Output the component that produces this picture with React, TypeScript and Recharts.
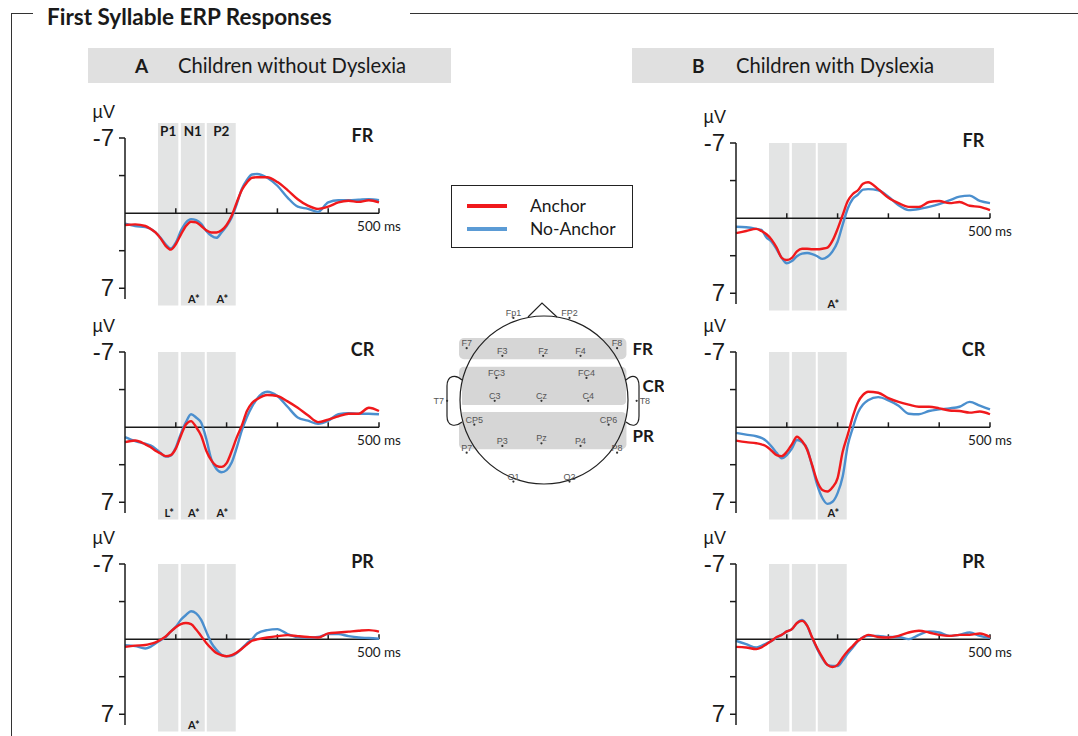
import React from 'react';
import {
  LineChart,
  Line,
  XAxis,
  YAxis,
  ReferenceArea,
  ReferenceLine,
  ReferenceDot,
  ScatterChart,
  Scatter,
} from 'recharts';

// time axis (ms after syllable onset), denser where the components sit
const TIME_MS = [0, 20, 40, 50, 60, 70, 80, 90, 100, 110, 120, 130, 140, 150, 160, 170, 180, 190, 200, 210, 220, 230, 240, 250, 260, 280, 300, 320, 340, 360, 380, 400, 420, 440, 460, 480, 500];
const X_TICKS = [100, 200, 300, 400, 500];
const Y_TICKS = [-7, -3.5, 3.5, 7];

const COMPONENTS = ['P1', 'N1', 'P2'];
const WINDOW_FROM = [65, 110, 161];
const WINDOW_TO = [105, 157, 218];

// µV, negative plotted up
const A_FR_ANCHOR = [1.1, 1.05, 1.2, 1.45, 1.8, 2.35, 3.05, 3.4, 2.9, 2.0, 1.2, 0.8, 0.87, 1.2, 1.6, 1.8, 1.8, 1.6, 1.1, 0.25, -1.0, -2.15, -2.85, -3.3, -3.35, -3.35, -2.9, -2.15, -1.3, -0.7, -0.4, -0.6, -1.0, -1.15, -1.05, -1.2, -1.0];
const A_FR_NO_ANCHOR = [0.97, 1.2, 1.3, 1.45, 1.8, 2.3, 2.9, 3.3, 2.75, 1.65, 0.87, 0.56, 0.65, 1.0, 1.65, 2.1, 2.3, 1.8, 1.2, 0.4, -0.85, -2.25, -3.1, -3.6, -3.65, -3.3, -2.55, -1.45, -0.6, -0.4, -0.12, -1.0, -1.2, -1.2, -1.25, -1.3, -1.2];

const A_CR_ANCHOR = [1.4, 1.25, 1.6, 1.85, 2.2, 2.45, 2.7, 2.6, 2.0, 0.8, -0.25, -0.56, 0.0, 0.8, 2.2, 3.1, 3.6, 3.7, 3.35, 2.25, 0.95, -0.15, -1.5, -2.25, -2.6, -3.0, -2.9, -2.4, -1.8, -1.1, -0.47, -0.7, -1.0, -1.25, -1.25, -1.8, -1.5];
const A_CR_NO_ANCHOR = [0.93, 1.3, 1.55, 1.7, 2.0, 2.4, 2.75, 2.65, 1.9, 0.6, -0.47, -1.2, -0.9, -0.4, 1.1, 3.0, 3.9, 4.2, 4.0, 3.3, 1.9, 0.3, -0.95, -1.9, -2.65, -3.3, -2.9, -1.9, -0.9, -0.6, -0.3, -0.6, -1.2, -1.3, -1.25, -1.25, -1.2];

const A_PR_ANCHOR = [0.72, 0.6, 0.55, 0.45, 0.3, 0.05, -0.25, -0.7, -1.1, -1.4, -1.5, -1.4, -0.9, -0.28, 0.35, 0.87, 1.3, 1.5, 1.6, 1.5, 1.25, 0.9, 0.5, 0.15, 0.03, -0.15, -0.28, -0.37, -0.28, -0.2, -0.15, -0.53, -0.62, -0.7, -0.78, -0.84, -0.7];
const A_PR_NO_ANCHOR = [0.56, 0.65, 0.87, 0.72, 0.4, 0.1, -0.2, -0.7, -1.15, -1.8, -2.25, -2.6, -2.4, -1.8, -0.7, 0.35, 1.0, 1.45, 1.6, 1.55, 1.3, 0.87, 0.4, 0.0, -0.53, -0.84, -0.93, -0.47, -0.2, -0.15, -0.2, -0.47, -0.47, -0.28, -0.15, -0.1, -0.03];

const B_FR_ANCHOR = [1.4, 1.2, 1.0, 1.2, 1.5, 2.0, 2.75, 3.7, 3.9, 3.7, 3.1, 2.85, 2.85, 2.9, 2.9, 2.85, 2.75, 2.1, 1.0, -0.3, -1.6, -2.25, -2.6, -3.2, -3.35, -2.7, -1.9, -1.4, -1.05, -1.05, -1.5, -1.6, -1.4, -1.5, -1.15, -1.05, -0.75];
const B_FR_NO_ANCHOR = [0.8, 0.85, 1.0, 1.1, 1.8, 2.2, 2.9, 3.7, 4.2, 4.0, 3.55, 3.3, 3.25, 3.35, 3.55, 3.8, 3.6, 3.1, 2.2, 0.6, -0.9, -1.8, -2.2, -2.65, -2.7, -2.6, -2.0, -1.2, -0.75, -0.85, -1.05, -1.3, -1.65, -2.0, -2.1, -1.6, -1.4];

const B_CR_ANCHOR = [1.25, 1.4, 1.5, 1.6, 1.8, 2.2, 2.6, 2.7, 2.3, 1.6, 0.9, 1.3, 2.1, 3.55, 5.05, 5.85, 6.0, 5.6, 4.75, 2.3, 0.7, -1.0, -2.3, -3.0, -3.3, -3.2, -2.7, -2.35, -2.1, -1.9, -1.9, -1.75, -1.55, -1.5, -1.35, -1.45, -1.2];
const B_CR_NO_ANCHOR = [0.53, 0.7, 0.85, 1.0, 1.3, 1.8, 2.4, 2.9, 2.6, 2.0, 1.2, 1.4, 2.0, 3.65, 5.4, 6.6, 7.15, 6.95, 6.15, 4.6, 1.7, 0.06, -1.35, -2.1, -2.5, -2.8, -2.5, -2.0, -1.25, -1.2, -1.5, -1.65, -1.75, -1.9, -2.35, -2.0, -1.65];

const B_PR_ANCHOR = [0.72, 0.78, 0.93, 0.78, 0.47, 0.16, -0.2, -0.4, -0.72, -0.93, -1.5, -1.7, -1.25, -0.15, 0.85, 1.7, 2.4, 2.6, 2.4, 1.7, 1.1, 0.62, 0.15, -0.15, -0.4, -0.2, -0.15, -0.3, -0.62, -0.78, -0.62, -0.4, -0.3, -0.4, -0.4, -0.53, -0.2];
const B_PR_NO_ANCHOR = [0.16, 0.47, 0.78, 0.62, 0.4, 0.16, -0.15, -0.4, -0.72, -0.93, -1.5, -1.78, -1.25, -0.1, 0.93, 1.78, 2.4, 2.5, 2.5, 2.0, 1.35, 0.78, 0.2, -0.2, -0.3, -0.3, -0.2, -0.2, 0, -0.4, -0.72, -0.62, -0.3, -0.4, -0.62, -0.3, -0.1];

// electrode montage, head radius = 1
const ELECTRODES = [
  { name: 'Fp1', x: -0.36, y: 0.965 },
  { name: 'FP2', x: 0.3, y: 0.965 },
  { name: 'F7', x: -0.91, y: 0.61 },
  { name: 'F3', x: -0.49, y: 0.52 },
  { name: 'Fz', x: -0.01, y: 0.52 },
  { name: 'F4', x: 0.43, y: 0.52 },
  { name: 'F8', x: 0.86, y: 0.61 },
  { name: 'FC3', x: -0.56, y: 0.26 },
  { name: 'FC4', x: 0.5, y: 0.26 },
  { name: 'T7', x: -1.14, y: -0.01 },
  { name: 'C3', x: -0.58, y: -0.01 },
  { name: 'Cz', x: -0.03, y: -0.01 },
  { name: 'C4', x: 0.52, y: -0.01 },
  { name: 'T8', x: 1.09, y: -0.01 },
  { name: 'CP5', x: -0.82, y: -0.29 },
  { name: 'CP6', x: 0.76, y: -0.29 },
  { name: 'P3', x: -0.49, y: -0.54 },
  { name: 'Pz', x: -0.03, y: -0.51 },
  { name: 'P4', x: 0.43, y: -0.54 },
  { name: 'P7', x: -0.91, y: -0.62 },
  { name: 'P8', x: 0.86, y: -0.62 },
  { name: 'O1', x: -0.36, y: -0.96 },
  { name: 'O2', x: 0.3, y: -0.96 },
];
const REGIONS = ['FR', 'CR', 'PR'];
const REGION_TOP = [0.73, 0.39, -0.14];
const REGION_BOTTOM = [0.48, -0.06, -0.58];

const RED = '#f0191c';
const BLUE = '#4b8fce';
const BAND = '#e3e4e4';
const INK = '#1a1a1a';

const PLOT_W = 254;
const PLOT_H = 161;

type PanelProps = {
  left: number;
  top: number;
  region: string;
  anchor: number[];
  noAnchor: number[];
  effects: string[];
  names?: boolean;
};

function YTick(props: any) {
  const { x, y, payload } = props;
  const v = payload.value;
  if (Math.abs(v) !== 7) return null;
  return (
    <g fontFamily="Liberation Sans, Arial, sans-serif" fill={INK}>
      {v === -7 && (
        <text x={x + 1} y={y - 20} textAnchor="end" fontSize={18}>
          µV
        </text>
      )}
      <text x={x} y={y} dy={8} textAnchor="end" fontSize={24}>
        {v === -7 ? '-7' : '7'}
      </text>
    </g>
  );
}

function BandLabel(props: any) {
  const { viewBox, topText, bottomText } = props;
  if (!viewBox) return null;
  const { x, y, width, height } = viewBox;
  const cx = x + width / 2;
  return (
    <g fontFamily="Lato, sans-serif" fontWeight={700} fill={INK}>
      {topText && (
        <text x={cx} y={y + 13} textAnchor="middle" fontSize={13.5}>
          {topText}
        </text>
      )}
      {bottomText && (
        <text x={cx + 1} y={y + height - 2} textAnchor="middle" fontSize={11}>
          {bottomText}
        </text>
      )}
    </g>
  );
}

function MsLabel(props: any) {
  const { viewBox } = props;
  if (!viewBox) return null;
  return (
    <text x={viewBox.x + viewBox.width} y={viewBox.y + 18} textAnchor="middle" fontSize={13.5} fontFamily="Lato, sans-serif" fill={INK}>
      500 ms
    </text>
  );
}

function RegionLabel(props: any) {
  const { viewBox, text } = props;
  if (!viewBox) return null;
  return (
    <text x={viewBox.x + viewBox.width * 0.935} y={viewBox.y + 4} textAnchor="middle" fontSize={18} fontWeight={700} fontFamily="Lato, sans-serif" fill={INK}>
      {text}
    </text>
  );
}

function ErpPanel({ left, top, region, anchor, noAnchor, effects, names }: PanelProps) {
  const data = TIME_MS.map((t, i) => ({ t, anchor: anchor[i], noAnchor: noAnchor[i] }));
  return (
    <div style={{ position: 'absolute', left: left - 60, top: top - 40 }}>
      <LineChart width={60 + PLOT_W + 46} height={40 + PLOT_H + 34} data={data} margin={{ top: 40, right: 46, bottom: 34, left: 0 }}>
        <XAxis dataKey="t" type="number" domain={[0, 500]} hide />
        <YAxis
          type="number"
          domain={[-7, 8]}
          reversed
          allowDataOverflow
          ticks={Y_TICKS}
          interval={0}
          width={60}
          tickSize={6}
          tickMargin={5}
          axisLine={{ stroke: INK, strokeWidth: 1.5 }}
          tickLine={{ stroke: INK, strokeWidth: 1.5 }}
          tick={<YTick />}
        />
        {COMPONENTS.map((c, i) => (
          <ReferenceArea
            key={c}
            x1={WINDOW_FROM[i]}
            x2={WINDOW_TO[i]}
            y1={names ? -8.4 : -7}
            y2={8.6}
            fill={BAND}
            fillOpacity={1}
            stroke="none"
            ifOverflow="visible"
            label={<BandLabel topText={names ? c : ''} bottomText={effects[i]} />}
          />
        ))}
        <ReferenceLine y={-7} stroke="none" label={<RegionLabel text={region} />} />
        <ReferenceLine y={0} stroke={INK} strokeWidth={1.5} label={<MsLabel />} />
        {X_TICKS.map((t) => (
          <ReferenceLine key={t} segment={[{ x: t, y: 0 }, { x: t, y: -0.45 }]} stroke={INK} strokeWidth={1.5} />
        ))}
        <Line dataKey="noAnchor" type="monotone" stroke={BLUE} strokeWidth={2.4} dot={false} isAnimationActive={false} />
        <Line dataKey="anchor" type="monotone" stroke={RED} strokeWidth={2.4} dot={false} isAnimationActive={false} />
      </LineChart>
    </div>
  );
}

function HeadOutline(props: any) {
  const { cx, cy, r } = props;
  if (cx == null) return null;
  const s = r / 84;
  const nose = `M ${cx - 16 * s} ${cy - 83 * s} L ${cx - 2 * s} ${cy - 97 * s} L ${cx + 13 * s} ${cy - 83 * s}`;
  const ear = (dir: number, reach: number) => {
    const X = (v: number) => cx + dir * v * s;
    const Y = (v: number) => cy + v * s;
    return `M ${X(82)} ${Y(-20)} C ${X(88)} ${Y(-26)} ${X(reach)} ${Y(-25)} ${X(reach)} ${Y(-14)} L ${X(reach)} ${Y(16)} C ${X(reach)} ${Y(27)} ${X(88)} ${Y(27)} ${X(82)} ${Y(22)}`;
  };
  return (
    <g fill="#fff" stroke="#222" strokeWidth={1.2}>
      <path d={nose} fill="#fff" />
      <path d={ear(-1, 97)} />
      <path d={ear(1, 95)} />
      <circle cx={cx} cy={cy} r={r} fill="none" />
    </g>
  );
}

function Electrode(props: any) {
  const { cx, cy, payload } = props;
  if (cx == null) return null;
  const side = payload.name === 'T7' ? -1 : payload.name === 'T8' ? 1 : 0;
  return (
    <g>
      <circle cx={cx} cy={cy} r={1.1} fill="#333" />
      {side === 0 ? (
        <text x={cx} y={cy - 2} textAnchor="middle" fontSize={9} fill="#555" fontFamily="Liberation Sans, Arial, sans-serif">
          {payload.name}
        </text>
      ) : (
        <text x={cx + side * 3} y={cy + 3} textAnchor={side < 0 ? 'end' : 'start'} fontSize={9} fill="#555" fontFamily="Liberation Sans, Arial, sans-serif">
          {payload.name}
        </text>
      )}
    </g>
  );
}

function RegionBand(props: any) {
  const { x, y, width, height } = props;
  return <rect x={x} y={y} width={width} height={height} rx={5} ry={5} fill="#d6d6d6" />;
}

function HeadRegionLabel(props: any) {
  const { viewBox, text, dx, dy } = props;
  if (!viewBox) return null;
  return (
    <text x={viewBox.x + viewBox.width + dx} y={viewBox.y + viewBox.height / 2 + dy} fontSize={17} fontWeight={700} fontFamily="Lato, sans-serif" fill={INK}>
      {text}
    </text>
  );
}

function HeadMap() {
  return (
    <div style={{ position: 'absolute', left: 424, top: 295 }}>
      <ScatterChart width={240} height={210} margin={{ top: 0, right: 0, bottom: 0, left: 0 }}>
        <XAxis dataKey="x" type="number" domain={[-1.412, 1.412]} hide />
        <YAxis dataKey="y" type="number" domain={[-1.235, 1.235]} hide />
        {REGIONS.map((name, i) => (
          <ReferenceArea
            key={name}
            x1={-1.0}
            x2={0.97}
            y1={REGION_BOTTOM[i]}
            y2={REGION_TOP[i]}
            ifOverflow="visible"
            shape={<RegionBand />}
            label={<HeadRegionLabel text={name} dx={name === 'CR' ? 16 : 6} dy={name === 'PR' ? 11 : 6} />}
          />
        ))}
        <ReferenceDot x={0} y={0} r={84} shape={<HeadOutline />} ifOverflow="visible" />
        <Scatter data={ELECTRODES} shape={<Electrode />} isAnimationActive={false} />
      </ScatterChart>
    </div>
  );
}

const PANELS: (PanelProps & { id: string })[] = [
  { id: 'a-fr', left: 125, top: 138, region: 'FR', anchor: A_FR_ANCHOR, noAnchor: A_FR_NO_ANCHOR, effects: ['', 'A*', 'A*'], names: true },
  { id: 'a-cr', left: 125, top: 352, region: 'CR', anchor: A_CR_ANCHOR, noAnchor: A_CR_NO_ANCHOR, effects: ['L*', 'A*', 'A*'] },
  { id: 'a-pr', left: 125, top: 564, region: 'PR', anchor: A_PR_ANCHOR, noAnchor: A_PR_NO_ANCHOR, effects: ['', 'A*', ''] },
  { id: 'b-fr', left: 736, top: 143, region: 'FR', anchor: B_FR_ANCHOR, noAnchor: B_FR_NO_ANCHOR, effects: ['', '', 'A*'] },
  { id: 'b-cr', left: 736, top: 352, region: 'CR', anchor: B_CR_ANCHOR, noAnchor: B_CR_NO_ANCHOR, effects: ['', '', 'A*'] },
  { id: 'b-pr', left: 736, top: 564, region: 'PR', anchor: B_PR_ANCHOR, noAnchor: B_PR_NO_ANCHOR, effects: ['', '', ''] },
];

function GroupHeader({ left, width, letter, letterX, text, textX }: { left: number; width: number; letter: string; letterX: number; text: string; textX: number }) {
  return (
    <div style={{ position: 'absolute', left, top: 48, width, height: 35, background: '#e0e0e0', fontFamily: 'Lato, sans-serif', color: INK, lineHeight: '35px' }}>
      <span style={{ position: 'absolute', left: letterX - left, fontWeight: 700, fontSize: 19 }}>{letter}</span>
      <span style={{ position: 'absolute', left: textX - left, fontSize: 20.2, whiteSpace: 'nowrap' }}>{text}</span>
    </div>
  );
}

export default function App() {
  return (
    <div style={{ position: 'absolute', left: 0, top: 0, width: 1078, height: 736, overflow: 'hidden', background: '#fff', fontFamily: 'Lato, sans-serif' }}>
      <div style={{ position: 'absolute', left: 11, top: 13, width: 22, borderTop: '1.5px solid #333' }} />
      <div style={{ position: 'absolute', left: 410, top: 13, width: 668, borderTop: '1.5px solid #333' }} />
      <div style={{ position: 'absolute', left: 11, top: 13, height: 740, borderLeft: '1.5px solid #333' }} />
      <div style={{ position: 'absolute', left: 47, top: 2, lineHeight: '30px', fontSize: 22.5, fontWeight: 700, color: INK, whiteSpace: 'nowrap' }}>
        First Syllable ERP Responses
      </div>

      <GroupHeader left={88} width={363} letter="A" letterX={135} text="Children without Dyslexia" textX={178} />
      <GroupHeader left={632} width={362} letter="B" letterX={692} text="Children with Dyslexia" textX={736} />

      {PANELS.map(({ id, ...p }) => (
        <ErpPanel key={id} {...p} />
      ))}

      <div style={{ position: 'absolute', left: 451, top: 185, width: 182, height: 63, boxSizing: 'border-box', border: '1.5px solid #222', background: '#fff' }}>
        <div style={{ position: 'absolute', left: 15, top: 18, width: 40, height: 4, background: RED }} />
        <div style={{ position: 'absolute', left: 15, top: 41, width: 40, height: 4, background: '#5b9bd5' }} />
        <div style={{ position: 'absolute', left: 78, top: 8, lineHeight: '24px', fontSize: 17.5, color: INK }}>Anchor</div>
        <div style={{ position: 'absolute', left: 78, top: 31, lineHeight: '24px', fontSize: 17.5, color: INK }}>No-Anchor</div>
      </div>

      <HeadMap />
    </div>
  );
}
